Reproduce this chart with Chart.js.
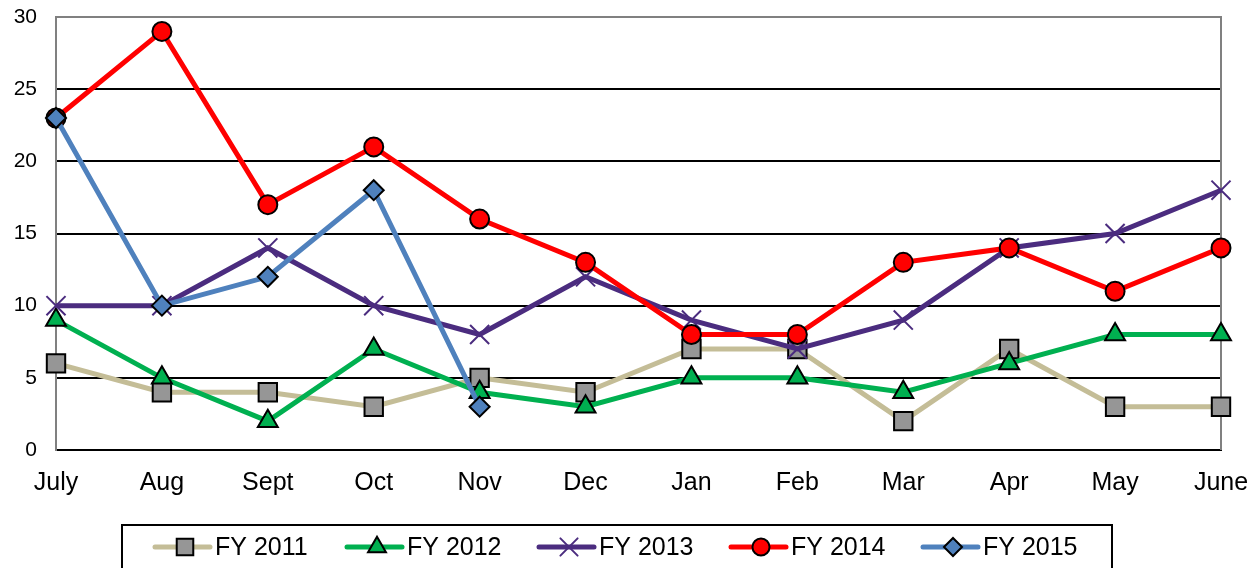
<!DOCTYPE html>
<html>
<head>
<meta charset="utf-8">
<script src="https://cdn.jsdelivr.net/npm/chart.js@4.4.1/dist/chart.umd.min.js"></script>
<style>
  html, body { margin: 0; padding: 0; background: #fff; }
  #wrap { width: 1254px; height: 568px; overflow: hidden; }
</style>
</head>
<body>
<div id="wrap"><canvas id="chart" width="1254" height="568"></canvas></div>
<script>
// data
const months = ["July", "Aug", "Sept", "Oct", "Nov", "Dec", "Jan", "Feb", "Mar", "Apr", "May", "June"];
const yTicks = [0, 5, 10, 15, 20, 25, 30];
const seriesNames = ["FY 2011", "FY 2012", "FY 2013", "FY 2014", "FY 2015"];
const fy2011 = [6, 4, 4, 3, 5, 4, 7, 7, 2, 7, 3, 3];
const fy2012 = [9, 5, 2, 7, 4, 3, 5, 5, 4, 6, 8, 8];
const fy2013 = [10, 10, 14, 10, 8, 12, 9, 7, 9, 14, 15, 18];
const fy2014 = [23, 29, 17, 21, 16, 13, 8, 8, 13, 14, 11, 14];
const fy2015 = [23, 10, 12, 18, 3, null, null, null, null, null, null, null];

const FONT = "'Liberation Sans', Arial, sans-serif";

function series(label, data, color, style, fill, radius, bw, order) {
  return {
    label, data, order,
    borderColor: color,
    borderWidth: 5,
    tension: 0,
    pointStyle: style,
    pointRadius: radius,
    pointHoverRadius: radius,
    pointBackgroundColor: fill,
    pointBorderColor: style === 'crossRot' ? color : '#000',
    pointBorderWidth: bw,
    spanGaps: false
  };
}

const datasets = [
  series(seriesNames[0], fy2011, '#C4BD97', 'rect', '#969696', 13, 2, 4),
  series(seriesNames[1], fy2012, '#00B050', 'triangle', '#00B050', 11.5, 2, 3),
  series(seriesNames[2], fy2013, '#4B2C7F', 'crossRot', '#4B2C7F', 13.5, 2, 2),
  series(seriesNames[3], fy2014, '#FF0000', 'circle', '#FF0000', 9.5, 2, 1),
  series(seriesNames[4], fy2015, '#4F81BD', 'rectRot', '#4F81BD', 10, 2, 0)
];

// gray frame on top and right of plot
const frame = {
  id: 'frame',
  beforeDatasetsDraw(chart) {
    const { ctx, chartArea: a } = chart;
    ctx.save();
    ctx.strokeStyle = '#808080';
    ctx.lineWidth = 2;
    ctx.beginPath();
    ctx.moveTo(a.left, a.top);
    ctx.lineTo(a.right, a.top);
    ctx.lineTo(a.right, a.bottom);
    ctx.stroke();
    ctx.restore();
  }
};

// boxed legend at the bottom
const boxLegend = {
  id: 'boxLegend',
  afterDraw(chart) {
    const c = chart.ctx;
    c.save();
    c.strokeStyle = '#000';
    c.lineWidth = 2;
    c.strokeRect(122, 525, 990, 60);
    chart.data.datasets.forEach((ds, i) => {
      const x = 155 + i * 192, y = 547;
      c.strokeStyle = ds.borderColor;
      c.lineWidth = 5;
      c.lineCap = 'round';
      c.beginPath(); c.moveTo(x, y); c.lineTo(x + 55, y); c.stroke();
      c.fillStyle = ds.pointBackgroundColor;
      c.strokeStyle = ds.pointBorderColor;
      c.lineWidth = ds.pointBorderWidth;
      Chart.helpers.drawPoint(c, {
        pointStyle: ds.pointStyle, rotation: 0,
        radius: ds.pointRadius * 0.9, borderWidth: ds.pointBorderWidth
      }, x + 30, y);
      c.fillStyle = '#000';
      c.font = '25px ' + FONT;
      c.textBaseline = 'middle';
      c.textAlign = 'left';
      c.fillText(ds.label, x + 60, y + 1);
    });
    c.restore();
  }
};

new Chart(document.getElementById('chart'), {
  type: 'line',
  data: { labels: months, datasets },
  options: {
    responsive: false,
    animation: false,
    events: [],
    layout: { padding: { top: 17, right: 33, left: 0, bottom: 0 } },
    plugins: { legend: { display: false }, tooltip: { enabled: false } },
    scales: {
      x: {
        offset: false,
        grid: { display: false, drawTicks: false },
        border: { display: true, color: '#000', width: 2 },
        ticks: { color: '#000', font: { family: FONT, size: 25 }, padding: 18, maxRotation: 0, autoSkip: false },
        afterFit(s) { s.height = 118; s.paddingLeft = 0; s.paddingRight = 0; }
      },
      y: {
        min: 0, max: 30,
        afterBuildTicks(s) { s.ticks = yTicks.map(v => ({ value: v })); },
        grid: { color: '#000', lineWidth: 2, drawTicks: false },
        border: { display: true, color: '#808080', width: 2 },
        ticks: { color: '#000', font: { family: FONT, size: 21 }, padding: 19 },
        afterFit(s) { s.width = 56; s.paddingTop = 0; s.paddingBottom = 0; }
      }
    }
  },
  plugins: [frame, boxLegend]
});
</script>
</body>
</html>
